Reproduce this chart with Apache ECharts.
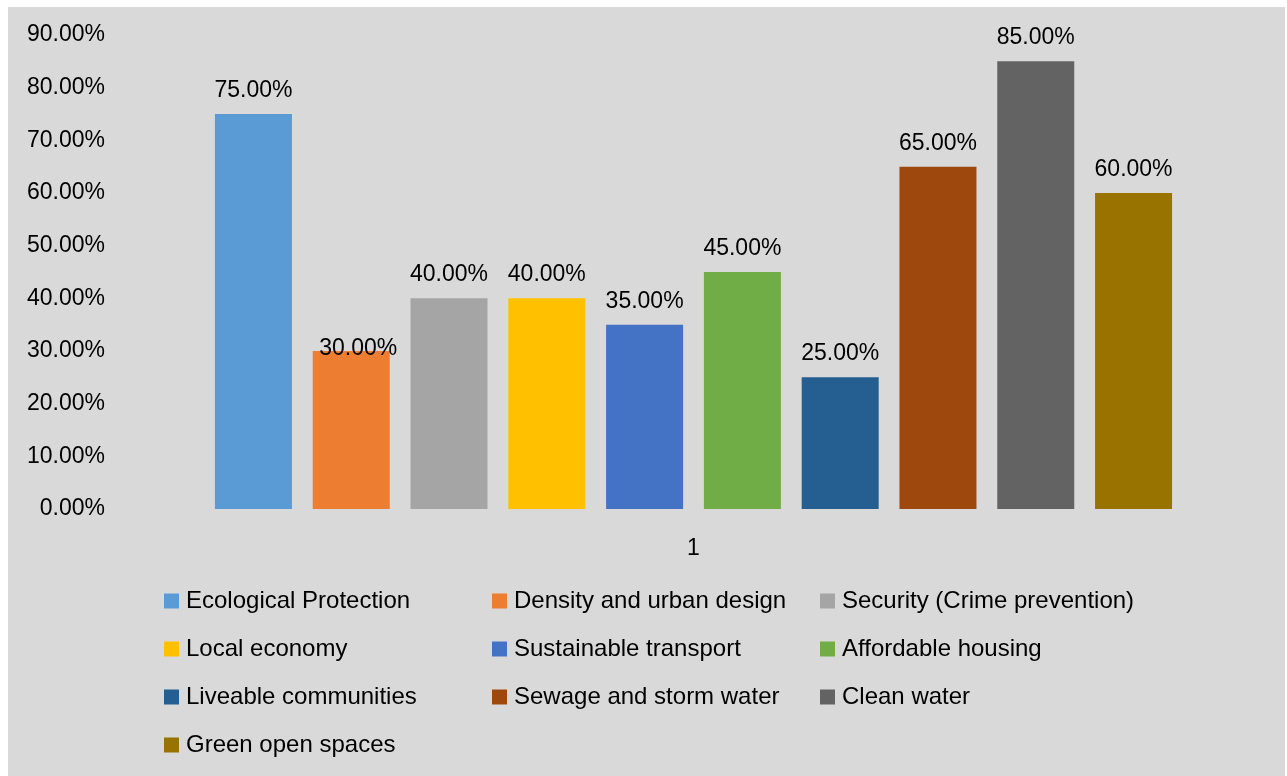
<!DOCTYPE html>
<html>
<head>
<meta charset="utf-8">
<script src="https://cdn.jsdelivr.net/npm/echarts@6/dist/echarts.min.js"></script>
<style>
html,body{margin:0;padding:0;background:#fff;}
#c{width:1287px;height:776px;}
</style>
</head>
<body>
<div id="c"></div>
<script>
const categories = ['1'];
const seriesNames = ['Ecological Protection','Density and urban design','Security (Crime prevention)','Local economy','Sustainable transport','Affordable housing','Liveable communities','Sewage and storm water','Clean water','Green open spaces'];
const seriesValues = [75, 30, 40, 40, 35, 45, 25, 65, 85, 60];
const seriesColors = ['#5B9BD5','#ED7D31','#A5A5A5','#FFC000','#4472C4','#70AD47','#255E91','#9E480E','#636363','#997300'];
const yTicks = [0,10,20,30,40,50,60,70,80,90];

const FONT = 'Liberation Sans';
const FS = 23;
const LFS = 24;

const chart = echarts.init(document.getElementById('c'), null, {renderer:'canvas'});

const series = seriesNames.map((n,i)=>({
  name:n,
  type:'bar',
  barWidth:77,
  barGap:'27%',
  itemStyle:{color:seriesColors[i]},
  data:[{
    value:seriesValues[i],
    label: i===1 ? {offset:[7,21]} : {}
  }],
  label:{
    show:true,
    position:'top',
    distance:12,
    color:'#000',
    fontFamily:FONT,
    fontSize:FS,
    formatter:p=>p.value.toFixed(2)+'%'
  }
}));

const legendCommon = {
  orient:'vertical',
  itemWidth:15,
  itemHeight:15,
  itemGap:24,
  icon:'rect',
  textStyle:{fontFamily:FONT,fontSize:LFS,color:'#000',padding:[0,0,0,2]},
  selectedMode:false
};

chart.setOption({
  backgroundColor:'#fff',
  animation:false,
  graphic:[{type:'rect',shape:{x:8,y:7,width:1277,height:769},style:{fill:'#d9d9d9'},z:-10,silent:true}],
  grid:{left:132,right:32,top:35,height:474,containLabel:false},
  xAxis:{
    type:'category',
    data:categories,
    axisLine:{show:false},
    axisTick:{show:false},
    axisLabel:{color:'#000',fontFamily:FONT,fontSize:FS,margin:28}
  },
  yAxis:{
    type:'value',
    min:0,max:90,interval:10,
    splitLine:{show:false},
    axisLine:{show:false},
    axisTick:{show:false},
    axisLabel:{color:'#000',fontFamily:FONT,fontSize:FS,margin:27,padding:[7,0,0,0],formatter:v=>v.toFixed(2)+'%'}
  },
  legend:[
    Object.assign({left:159,top:584,data:[seriesNames[0],seriesNames[3],seriesNames[6],seriesNames[9]]},legendCommon),
    Object.assign({left:487,top:584,data:[seriesNames[1],seriesNames[4],seriesNames[7]]},legendCommon),
    Object.assign({left:815,top:584,data:[seriesNames[2],seriesNames[5],seriesNames[8]]},legendCommon)
  ],
  series:series
});
</script>
</body>
</html>
